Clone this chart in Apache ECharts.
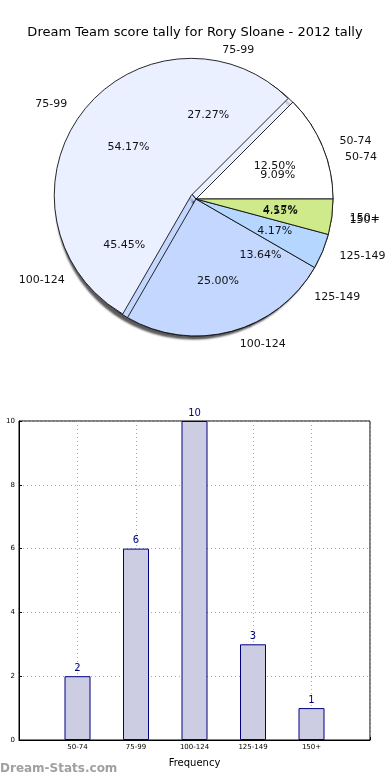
<!DOCTYPE html>
<html><head><meta charset="utf-8">
<script src="https://cdn.jsdelivr.net/npm/echarts@6/dist/echarts.min.js"></script>
<style>html,body{margin:0;padding:0;background:#fff}#c{width:390px;height:780px}</style>
</head><body><div id="c"></div>
<script>
const categories = ['50-74', '75-99', '100-124', '125-149', '150+'];
const tally2012 = [2, 6, 10, 3, 1];
const tallyOther = [3, 13, 6, 1, 1];
const sliceColors = ['#ffffff', '#eaf0ff', '#c4d7ff', '#b4d6ff', '#cfea8a'];
const yTicks = [0, 2, 4, 6, 8, 10];

const C = [196, 199];
const R = 137;
const FONT = 'DejaVu Sans';

function pieData(vals, explodeIdx) {
  return vals.map((v, i) => ({
    name: categories[i], value: v,
    selected: i === explodeIdx,
    itemStyle: { color: sliceColors[i] }
  }));
}
function pctFormatter(vals) {
  const tot = vals.reduce((a, b) => a + b, 0);
  return p => (p.value / tot * 100).toFixed(2) + '%';
}
function shapeSeries(vals, z, explodeIdx, shadow) {
  return {
    type: 'pie', center: C, radius: [0, R], z: z,
    clockwise: false, startAngle: 0, avoidLabelOverlap: false,
    selectedMode: explodeIdx == null ? false : 'single', selectedOffset: 6,
    minShowLabelAngle: 0, animation: false, silent: true,
    itemStyle: Object.assign({ borderColor: '#111', borderWidth: 0.9 },
      shadow ? { shadowColor: 'rgba(0,0,0,0.65)', shadowBlur: 2, shadowOffsetX: -3, shadowOffsetY: 3 } : {}),
    label: { show: true, position: 'outside', color: '#111', fontSize: 11, fontFamily: FONT, formatter: '{b}' },
    labelLine: { show: false, length: 13, length2: 0 },
    labelLayout: { hideOverlap: false },
    data: pieData(vals, explodeIdx)
  };
}
function pctSeries(vals, z) {
  return {
    type: 'pie', center: C, radius: [R * 0.4, R * 0.8], z: z,
    clockwise: false, startAngle: 0, avoidLabelOverlap: false,
    minShowLabelAngle: 0, animation: false, silent: true,
    itemStyle: { color: 'rgba(0,0,0,0)', borderWidth: 0 },
    label: { show: true, position: 'inside', color: '#111', fontSize: 11, fontFamily: FONT, formatter: pctFormatter(vals) },
    labelLine: { show: false },
    labelLayout: { hideOverlap: false },
    data: vals.map((v, i) => ({ name: categories[i], value: v }))
  };
}

const xCats = [''].concat(categories, ['']);
const barVals = [null].concat(tally2012, [null]);

const chart = echarts.init(document.getElementById('c'), null, { renderer: 'canvas' });
chart.setOption({
  animation: false,
  backgroundColor: '#fff',
  title: {
    text: 'Dream Team score tally for Rory Sloane - 2012 tally',
    left: 'center', top: 21,
    textStyle: { fontFamily: FONT, fontSize: 13, fontWeight: 'normal', color: '#000' }
  },
  graphic: [{
    type: 'text', left: 0, top: 763,
    style: { text: 'Dream-Stats.com', fill: '#a0a0a0', font: 'bold 12px "DejaVu Sans"' }
  }],
  grid: { left: 19, right: 20, top: 421, bottom: 40, show: true, borderColor: '#000', borderWidth: 1,
          containLabel: false, outerBoundsMode: 'none' },
  xAxis: {
    type: 'category', data: xCats, boundaryGap: false,
    axisLine: { lineStyle: { color: '#000' } },
    axisTick: { show: true, inside: true, length: 3, lineStyle: { color: '#000' } },
    axisLabel: { fontSize: 7, color: '#000', fontFamily: FONT, margin: 4, interval: 0 },
    splitLine: { show: true, lineStyle: { type: [1, 3], color: '#aaa' } },
    name: 'Frequency', nameLocation: 'middle', nameGap: 18,
    nameTextStyle: { fontSize: 10, color: '#000', fontFamily: FONT }
  },
  yAxis: {
    type: 'value', min: yTicks[0], max: yTicks[yTicks.length - 1], interval: 2,
    axisLine: { show: true, lineStyle: { color: '#000' } },
    axisTick: { show: true, inside: true, length: 3, lineStyle: { color: '#000' } },
    axisLabel: { fontSize: 7, color: '#000', fontFamily: FONT, margin: 4 },
    splitLine: { show: true, lineStyle: { type: [1, 3], color: '#aaa' } },
    name: 'Dream Team Tally', nameLocation: 'middle', nameGap: 21,
    nameTextStyle: { fontSize: 10, color: '#000', fontFamily: FONT }
  },
  series: [
    shapeSeries(tally2012, 1, null, true),
    shapeSeries(tallyOther, 2, 1, false),
    pctSeries(tallyOther, 3),
    pctSeries(tally2012, 4),
    {
      type: 'bar', data: barVals, barWidth: 26,
      itemStyle: { color: '#cccce2', borderColor: '#000080', borderWidth: 1 },
      label: { show: true, position: 'top', color: '#000080', fontSize: 10, fontFamily: FONT, distance: 3 }
    }
  ]
});
</script></body></html>
